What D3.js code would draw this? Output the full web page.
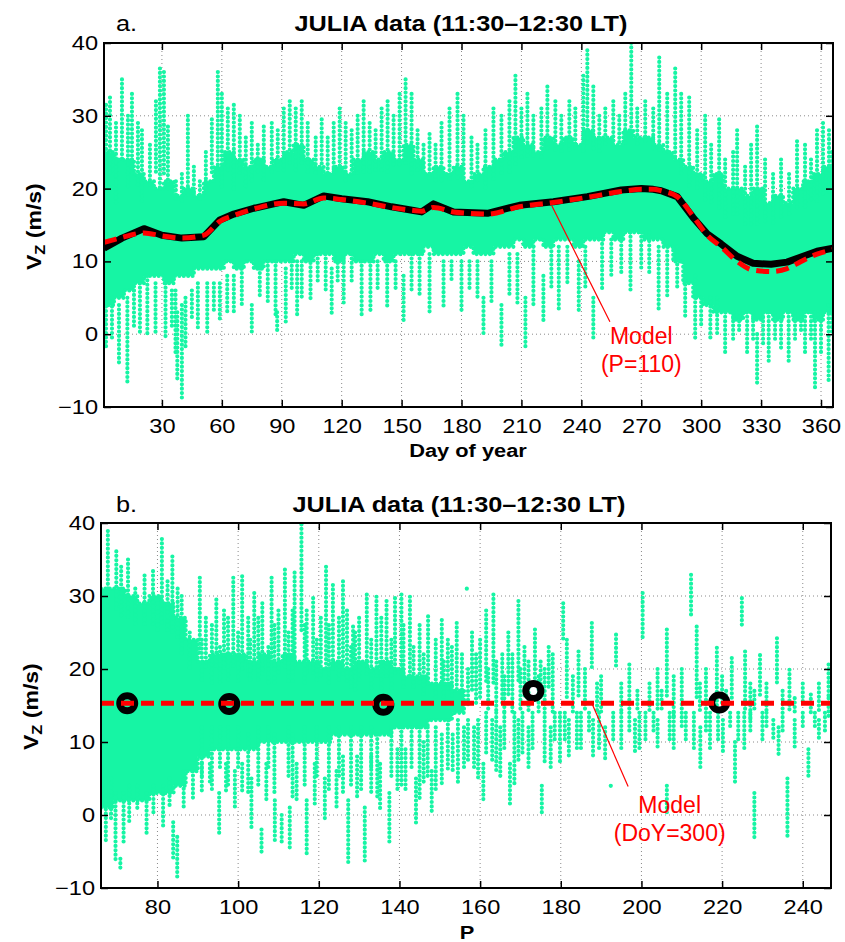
<!DOCTYPE html>
<html>
<head>
<meta charset="utf-8">
<script src="https://cdn.jsdelivr.net/npm/d3@7"></script>
<style>
  body { margin: 0; background: #fff; }
  text { font-family: "Liberation Sans", Arial, Helvetica, sans-serif; }
</style>
</head>
<body>
<svg id="chart" width="845" height="942"></svg>
<script>
///////////////////////////////////////////////////////////////////////////////
// data

var doyTicks = [30, 60, 90, 120, 150, 180, 210, 240, 270, 300, 330, 360];
var pTicks = [80, 100, 120, 140, 160, 180, 200, 220, 240];
var vzTicks = [-10, 0, 10, 20, 30, 40];

// panel a: dense part of the cloud, [first day of bin, low, high]
var doyCore = [
  [1, 4, 25], [6, 5, 24], [11, 6, 24], [16, 7, 22], [21, 8, 21], [26, 8, 20],
  [31, 7, 21], [36, 8, 19], [41, 8, 20], [46, 9, 19], [51, 9, 21], [56, 9, 23],
  [61, 10, 25], [66, 9, 24], [71, 10, 23], [76, 9, 24], [81, 10, 23],
  [86, 10, 24], [91, 10, 25], [96, 11, 26], [101, 10, 24], [106, 11, 23],
  [111, 11, 22], [116, 10, 23], [121, 11, 22], [126, 10, 24], [131, 10, 25],
  [136, 11, 24], [141, 10, 25], [146, 11, 24], [151, 11, 26], [156, 11, 24],
  [161, 12, 22], [166, 11, 23], [171, 11, 22], [176, 11, 23], [181, 12, 21],
  [186, 11, 22], [191, 11, 23], [196, 12, 24], [201, 12, 25], [206, 13, 27],
  [211, 12, 26], [216, 13, 25], [221, 12, 27], [226, 13, 26], [231, 13, 27],
  [236, 12, 26], [241, 13, 28], [246, 13, 27], [251, 14, 27], [256, 13, 26],
  [261, 14, 28], [266, 14, 27], [271, 13, 27], [276, 13, 26], [281, 12, 25],
  [286, 10, 24], [291, 7, 23], [296, 5, 22], [301, 4, 21], [306, 3, 22],
  [311, 3, 20], [316, 2, 20], [321, 3, 19], [326, 2, 20], [331, 3, 18],
  [336, 2, 19], [341, 3, 18], [346, 2, 20], [351, 3, 21], [356, 2, 22],
  [361, 3, 23]
];
var doyEnd = 366;

// panel a: sparse vertical streaks of samples, [day, low, high]
var doyStreaks = [
  [2, 20, 31.5], [4, 22, 32.5], [7, 18, 29], [10, 24, 35], [13, 20, 30],
  [15, 22, 33], [18, 20, 29], [20, 18, 28], [24, 20, 26], [27, 22, 32],
  [29, 20, 36.5], [31, 22, 36], [33, 20, 28.5], [37, 18, 21], [40, 18, 22],
  [43, 19, 30], [46, 19, 23], [49, 18, 21], [52, 20, 25], [55, 22, 29.5],
  [58, 22, 36], [60, 20, 33], [63, 22, 31], [66, 20, 31.5], [69, 22, 30],
  [72, 20, 27], [75, 21, 29], [78, 22, 26], [81, 21, 28.5], [85, 22, 29],
  [88, 22, 28], [91, 22, 31], [94, 23, 32], [97, 22, 31], [100, 23, 32],
  [103, 22, 29], [107, 22, 27], [110, 23, 29.5], [113, 22, 27], [116, 22, 29],
  [119, 22, 31], [122, 21, 29], [125, 22, 28], [128, 22, 30], [131, 22, 32],
  [134, 22, 29], [137, 22, 28], [140, 22, 31], [143, 22, 32], [146, 23, 30],
  [149, 23, 33], [152, 23, 35], [155, 22, 33], [158, 22, 28], [161, 22, 26],
  [164, 21, 27.5], [167, 21, 26], [170, 21, 29], [174, 21, 31], [178, 21, 33],
  [181, 21, 30], [185, 20, 27], [188, 21, 26], [192, 20, 28], [196, 21, 31],
  [200, 22, 30], [204, 22, 32], [207, 23, 35.5], [210, 24, 31], [213, 24, 33],
  [216, 24, 30], [220, 24, 31], [223, 25, 34], [227, 25, 32], [230, 25, 30],
  [234, 25, 32], [237, 25, 31], [241, 25, 35.5], [243, 26, 39], [246, 25, 34],
  [249, 25, 30], [252, 26, 31], [256, 26, 32], [259, 26, 30], [262, 26, 33],
  [265, 27, 40], [268, 26, 31], [272, 26, 32], [276, 25, 31], [279, 25, 38],
  [283, 25, 33], [287, 24, 36.5], [290, 22, 33], [294, 20, 32.5], [298, 20, 28],
  [302, 18, 30], [305, 18, 26], [309, 17, 29.5], [312, 16, 24], [316, 16, 25],
  [318, 16, 28], [322, 15, 23], [325, 15, 26], [328, 15, 28.5], [332, 15, 24],
  [336, 15, 22], [340, 16, 24], [344, 16, 22], [348, 17, 26.5], [352, 17, 26],
  [355, 18, 24], [358, 18, 28], [361, 19, 29], [364, 19, 28], [365.5, 20, 25],
  [2, -1.7, 5], [5, -1, 5], [8.5, -4, 4], [12.7, -6.5, 5], [16, 1, 6],
  [19, 0, 7], [22.7, -0.1, 8], [26.8, 0, 7], [31.8, -0.4, 7], [35, 1, 6],
  [36.8, -2.9, 6], [37.7, -6.3, 3], [40, -8.8, 4], [41.8, -2.2, 5], [45, 2, 6],
  [48, 0.5, 7], [52.7, -0.1, 7], [56, 3, 7], [59, 2, 7], [62.7, 2.9, 8],
  [66, 2.7, 8], [70, 4, 9], [75, -0.1, 4], [79, 5, 9], [83, 4, 10],
  [86.9, 2.4, 10], [87.7, 0.3, 3], [92, 1.5, 9], [95, 6, 10], [97.7, 2.6, 10],
  [100, 4.7, 10], [104.4, 4.7, 11], [108, 7, 11], [112, 6, 11], [115, 2.6, 9],
  [118, 7, 11], [121, 4, 11], [125, 7, 11], [130, 2.4, 10], [134.4, 3.3, 10],
  [138, 6, 10], [142.8, 3.75, 10], [147, 6, 10], [151, 1.7, 8], [155, 6, 11],
  [159, 5, 11], [164, 2.8, 11], [171, 3.6, 10], [175, 7, 10], [180, 3.1, 10],
  [184, 6, 10], [188, 5, 10], [191, -0.4, 5], [195, 4, 10], [200, -2, 4],
  [204, 5, 11], [208, 4, 11], [212, -2, 5], [216, 4, 12], [221, 1.5, 8],
  [225, 6, 12], [228.7, 3.5, 12], [233, 7, 12], [238.7, 3.3, 10], [242, 6, 12],
  [246, -0.6, 5], [250.4, 5.8, 13], [255, 8, 13], [260, 8, 14], [264.6, 6, 14],
  [270, 9, 14], [274, 8, 14], [278.7, 3.1, 12], [283, 5.1, 12], [288, 6, 12],
  [292, 2, 8], [297, -0.8, 8], [300, 1, 5], [304.6, -0.6, 5], [308, 0, 5],
  [312, -2.9, 3], [316, -1, 3], [319, 0, 3], [323, -2.9, 3], [326, -1, 3],
  [328, -6.8, 0], [331, -1.5, 3], [333.8, -4, 3], [337, -1, 3], [340, -2, 3],
  [343.8, -4, 3], [347, -1, 3], [350, 0, 3], [352, -2.9, 3], [355, -1, 3],
  [357, -7.5, 3], [360, -3, 3], [363.8, -6.8, 4], [365.5, 0.1, 4]
];

// panel a: running mean of the data (black) and model at P=110 (red)
var meanDays = [1, 10, 21, 30, 40, 51, 59, 66, 76, 91, 101, 111, 120, 133, 145,
  156, 160, 166, 176, 193, 209, 226, 243, 260, 270, 276, 280, 288, 296, 303,
  310, 318, 326, 335, 343, 350, 358, 366];
var meanVz = [11.8, 13.2, 14.5, 13.6, 13.2, 13.4, 15.7, 16.5, 17.3, 18.2, 17.7,
  19.0, 18.6, 18.2, 17.5, 17.0, 16.8, 17.9, 16.8, 16.6, 17.7, 18.2, 18.9, 19.8,
  20.0, 19.9, 19.7, 18.9, 16.0, 13.8, 12.4, 10.7, 9.75, 9.6, 9.9, 10.6, 11.4,
  11.8];
var modelVz = [12.6, 13.3, 13.9, 13.5, 13.2, 13.6, 15.5, 16.3, 17.2, 18.0, 17.9,
  18.7, 18.5, 18.0, 17.4, 17.0, 16.9, 17.4, 16.8, 16.5, 17.5, 18.1, 18.8, 19.6,
  19.9, 19.9, 19.7, 18.9, 16.2, 13.6, 12.0, 10.0, 8.8, 8.6, 9.0, 10.0, 11.0,
  11.6];

// panel b: dense part of the cloud, [first P of bin, low, high]
var pCore = [
  [66, 1, 31], [69, 2, 31], [72, 2, 30], [75, 2, 29], [78, 3, 30], [81, 3, 29],
  [84, 4, 27], [87, 6, 24], [90, 8, 21], [93, 9, 22], [96, 9, 22], [99, 9, 22],
  [102, 9, 21], [105, 10, 22], [108, 10, 21], [111, 10, 22], [114, 10, 21],
  [117, 10, 21], [120, 10, 20], [123, 11, 21], [126, 11, 20], [129, 11, 21],
  [132, 11, 20], [135, 11, 21], [138, 12, 20], [141, 12, 19], [144, 12, 19],
  [147, 13, 18], [150, 13, 18], [153, 14, 17]
];
var pEnd = 156;

// panel b: sparse streaks, [P, low, high]
var pStreaks = [
  [67.7, 28, 38.9], [69.8, 28, 36.1], [71, 27, 34], [72.7, 27, 35],
  [74.5, 26, 31], [76.8, 26, 32.8], [78.9, 26, 33.4], [80, 25, 29],
  [81.1, 26, 37.8], [82.5, 25, 32], [83.7, 25, 35.4], [85, 24, 31],
  [86, 22, 30], [88, 20, 25], [90.5, 22, 32.5], [92, 20, 27], [94.6, 20, 29.5],
  [96.5, 20, 28], [98.8, 20, 32.5], [101, 20, 32.7], [102.5, 19, 27],
  [104, 20, 30.4], [106, 19, 29], [108.3, 20, 32.5], [110, 19, 28],
  [111.6, 20, 33.6], [114, 20, 33.2], [115.7, 25, 39.8], [117, 19, 28],
  [118.6, 19, 29.7], [120.5, 19, 27], [121.8, 20, 34], [123.5, 20, 31.5],
  [126, 19, 32], [127, 18, 28], [128.5, 19, 25.8], [130, 18, 27],
  [131.9, 19, 30.2], [134.3, 19, 29.9], [136.8, 19, 29.3], [138.9, 19, 29.7],
  [140.5, 19, 30.2], [142.6, 19, 29.9], [145, 18, 26], [147.1, 18, 27.2],
  [150.5, 18, 26.7], [152, 17, 24], [154.2, 17, 26.3], [156.7, 30.5, 31],
  [158, 17, 25], [160, 16, 24], [161.5, 18, 28], [163.3, 18, 30.2],
  [165.5, 15, 22], [167, 16, 25], [169.5, 18, 29.3], [171, 16, 23],
  [173.6, 18, 25.4], [175, 16, 21], [177, 17, 23], [180.6, 24, 29],
  [181.5, 16, 24], [184.4, 16, 22.4], [186, 14, 20], [187.7, 20, 26.3],
  [190, 14, 19], [193.7, 20, 24.7], [197, 14, 20.6], [200.3, 24, 30.4],
  [202, 14, 18], [204, 14, 20], [206.3, 16, 25.4], [208, 13, 19], [210, 14, 20],
  [212.3, 27, 32.9], [213.7, 16, 25.8], [216, 14, 20], [218.7, 14, 22.9],
  [220, 15, 19], [222.4, 16, 21.5], [224.9, 26, 29.7], [225.7, 14, 22.4],
  [227, 13, 18], [229.4, 16, 21.9], [231, 14, 18], [233.6, 18, 24.2],
  [236.7, 14, 19.9], [240, 15, 18], [244, 14, 18], [246.4, 16, 20.6],
  [91, 18, 24], [93.5, 18, 26], [95.5, 18, 23], [97.5, 18, 27], [100, 18, 25],
  [103, 18, 24], [105, 18, 27], [107.5, 18, 23], [109, 18, 26],
  [112.5, 18, 25], [113.5, 18, 28], [116.5, 18, 26], [119.5, 18, 24],
  [122.5, 18, 26], [125, 18, 27], [128, 17, 23], [129, 17, 25], [133, 17, 24],
  [135.5, 17, 27], [138, 17, 24], [141, 17, 26], [143.5, 17, 23],
  [146, 16, 22], [149, 16, 24], [151, 16, 21], [153, 16, 23], [155.5, 15, 22],
  [157, 15, 20], [159, 15, 22], [162, 14, 20], [164, 14, 21], [166, 14, 19],
  [168, 14, 22], [170, 14, 20], [172, 14, 21], [174.5, 14, 19], [176, 14, 20],
  [178, 14, 22], [183, 14, 19], [189, 14, 18], [195, 14, 18], [199, 14, 17],
  [205, 14, 17], [214.5, 14, 18], [221, 14, 17], [228, 14, 17], [235, 14, 17],
  [238, 14, 16], [242, 14, 16.5],
  [67.2, -3.7, 5], [68.5, -1, 5], [69.6, -6.2, 3], [70.8, -7.3, -6],
  [71.6, -3.9, 3], [73, -1, 4], [75, 0.5, 4], [77.3, -2.7, 3], [79, 0, 4],
  [81.4, -1.6, 4], [83, 1, 5], [83.9, -6.4, -1], [84.9, -8.7, -3], [86.5, 1, 6],
  [88.8, 2.3, 6], [91, 3, 7], [93, 4, 7], [95.3, -2.5, 3], [97, 3, 7],
  [99.2, 0.7, 6], [101, 3, 7], [103.3, -1.8, 5], [105.8, -5.3, -2], [107, 2, 7],
  [109.1, -3.9, 2], [110.8, -3.9, 0], [112.8, -5, 1], [114.5, 2, 7],
  [117, -5.3, 2], [119, 1, 7], [121.5, -0.5, 5], [124.4, 1.1, 6], [126, 3, 8],
  [127.3, -6.6, 2], [129.5, 2, 8], [131.4, -6.4, 1], [133, 3, 8],
  [135.2, 0.5, 7], [137.5, -3.9, 3], [139.5, 3, 9], [141.5, 3, 9],
  [144.1, -1.6, 5], [146, 4, 10], [148, 0, 6], [150.5, 4, 11], [153.2, 5.6, 11],
  [156, 6, 12], [158.5, 6, 12], [160.8, 1.8, 7], [163, 7, 13], [165, 5, 12],
  [167.4, 1.4, 7], [169.5, 7, 13], [172, 6, 12], [175.3, 0, 4], [177.5, 6, 12],
  [179.8, 7.3, 14], [182, 8, 13], [185, 9, 14], [188, 8, 13], [191, 7.3, 12],
  [192.4, 3.6, 4], [195, 9, 14], [198.4, 8.2, 13], [201, 10, 14], [204, 9, 13],
  [206.3, 0, 4], [208, 9, 14], [211, 10, 14], [214.6, 6.2, 12], [217, 9, 14],
  [220.2, 8.2, 13], [223.2, 4.3, 10], [225.5, 9, 14], [228, -3.2, 3],
  [230, 10, 14], [232.7, 10.3, 13], [234, 8, 12], [236.2, -3, 5], [238, 9, 13],
  [241.4, 5, 9], [244, 10, 13], [246.4, 13.3, 16],
  [91, 5, 12], [93.5, 3, 12], [95.5, 6, 12], [97.5, 4, 12], [100, 6, 12],
  [102.5, 3, 11], [105, 4, 12], [107.5, 6, 12], [109, 3, 11], [112.5, 5, 12],
  [113.5, 2, 11], [116.5, 4, 12], [119.5, 5, 12], [122.5, 3, 12], [125, 5, 12],
  [128, 4, 12], [130.5, 3, 12], [133, 6, 12], [134.5, 2, 11], [138, 5, 12],
  [140.5, 4, 12], [143, 6, 12], [145, 2, 12], [147, 5, 12], [149, 3, 12],
  [152, 6, 13], [154.5, 4, 13], [157, 7, 13], [159.5, 5, 13], [161.5, 8, 14],
  [164, 6, 14], [166, 9, 14], [168.5, 4, 14], [170.5, 8, 14], [173, 9, 14],
  [176, 7, 14], [178.5, 10, 14], [181, 10, 14], [184, 9, 14], [187, 11, 14],
  [189.5, 9, 14], [193, 10, 14], [197, 11, 14], [199.5, 9, 14], [203, 11, 14],
  [207, 10, 14], [210, 12, 14], [213, 9, 14], [216, 11, 14], [219, 10, 14],
  [222, 12, 14], [224, 10, 14], [227, 11, 14], [231, 12, 14], [235, 11, 14],
  [240, 12, 14], [243, 12, 14], [245.5, 11, 14]
];

// panel b: binned data means (circles) and model at DoY=300 (red)
var binP = [72.5, 97.8, 136, 173.2, 219.3];
var binVz = [15.3, 15.2, 15.1, 17.0, 15.4];
var pModelP = [66, 247];
var pModelVz = [15.3, 15.3];

// annotation arrows: [tip x, tip y, tail x, tail y], labels at [x, y]
var noteA = [225.3, 17.6, 254.3, 1.7];
var noteALabel = [270, -1.3];
var noteB = [187.7, 15.3, 196.7, 3.9];
var noteBLabel = [207, 0.3];

///////////////////////////////////////////////////////////////////////////////

var GREEN = "#16f5a4";
var svg = d3.select("#chart");

var xA = d3.scaleLinear().domain([1, 366]).range([104, 833]);
var yA = d3.scaleLinear().domain([-10, 40]).range([407, 43]);
var xB = d3.scaleLinear().domain([66, 247]).range([101, 831]);
var yB = d3.scaleLinear().domain([-10, 40]).range([888, 523]);

var addText = function (g, px, py, str, o) {
  o = o || {};
  var t = g.append("text")
    .attr("transform", "translate(" + px + "," + py + ")" + (o.sx ? " scale(" + o.sx + ",1)" : ""))
    .attr("text-anchor", o.anchor || "start")
    .attr("font-size", o.size || 20)
    .attr("font-weight", o.bold ? "bold" : null)
    .attr("fill", o.fill || "#000")
    .text(str);
  return t;
};

var frame = function (name, x, y, xt) {
  var g = svg.append("g");
  var x0 = x.range()[0], x1 = x.range()[1];
  var yb = y.range()[0], yt = y.range()[1];

  g.append("clipPath").attr("id", "clip-" + name)
    .append("rect").attr("x", x0).attr("y", yt)
    .attr("width", x1 - x0).attr("height", yb - yt);

  // dotted grid
  var grid = g.append("g").attr("stroke", "#8a8a8a").attr("stroke-width", 1)
    .attr("stroke-dasharray", "1,3");
  grid.selectAll(".gx").data(xt).enter().append("line")
    .attr("x1", function (d) { return x(d); }).attr("x2", function (d) { return x(d); })
    .attr("y1", yt).attr("y2", yb);
  grid.selectAll(".gy").data(vzTicks.slice(1, -1)).enter().append("line")
    .attr("y1", function (d) { return y(d); }).attr("y2", function (d) { return y(d); })
    .attr("x1", x0).attr("x2", x1);

  var plot = g.append("g").attr("clip-path", "url(#clip-" + name + ")");
  return { g: g, plot: plot };
};

// the cloud: a filled dense body with a beaded rim, plus beaded streaks
var drawCloud = function (plot, x, y, core, end, streaks) {
  var last = core[core.length - 1];
  var pts = core.concat([[end, last[1], last[2]]]);
  var area = d3.area()
    .x(function (d) { return x(d[0]); })
    .y0(function (d) { return y(d[1]); })
    .y1(function (d) { return y(d[2]); })
    .curve(d3.curveStepAfter);
  plot.append("path").datum(pts).attr("d", area).attr("fill", GREEN);
  plot.append("path").datum(pts).attr("d", area)
    .attr("fill", "none").attr("stroke", GREEN)
    .attr("stroke-width", 4.2).attr("stroke-linecap", "round")
    .attr("stroke-dasharray", "0 4.4");

  plot.append("g").selectAll("line").data(streaks).enter().append("line")
    .attr("x1", function (d) { return x(d[0]); })
    .attr("x2", function (d) { return x(d[0]); })
    .attr("y1", function (d) { return y(d[2]); })
    .attr("y2", function (d) { return y(d[1]); })
    .attr("stroke", GREEN)
    .attr("stroke-width", 4.2)
    .attr("stroke-linecap", "round")
    .attr("stroke-dasharray", "0 4.4");
};

var drawAxes = function (g, x, y, xt) {
  var x0 = x.range()[0], x1 = x.range()[1];
  var yb = y.range()[0], yt = y.range()[1];
  var fix = function (sel, labels) {
    sel.attr("font-size", 20).attr("font-family", null);
    sel.select(".domain").remove();
    sel.selectAll("line").attr("stroke-width", 1.5);
    if (labels) sel.selectAll("text").attr("transform", "scale(1.18,1)");
  };

  g.append("g").attr("transform", "translate(0," + yb + ")")
    .call(d3.axisBottom(x).tickValues(xt).tickSize(-7).tickSizeOuter(0).tickPadding(12))
    .call(fix, true);
  g.append("g").attr("transform", "translate(0," + yt + ")")
    .call(d3.axisTop(x).tickValues(xt).tickSize(-7).tickSizeOuter(0).tickFormat(""))
    .call(fix, false);
  g.append("g").attr("transform", "translate(" + x0 + ",0)")
    .call(d3.axisLeft(y).tickValues(vzTicks).tickSize(-7).tickSizeOuter(0).tickPadding(5))
    .call(fix, true);
  g.append("g").attr("transform", "translate(" + x1 + ",0)")
    .call(d3.axisRight(y).tickValues(vzTicks).tickSize(-7).tickSizeOuter(0).tickFormat(""))
    .call(fix, false);

  g.append("rect").attr("x", x0).attr("y", yt)
    .attr("width", x1 - x0).attr("height", yb - yt)
    .attr("fill", "none").attr("stroke", "#000").attr("stroke-width", 2);
};

var yLabel = function (g, px, py) {
  var t = g.append("text")
    .attr("transform", "translate(" + px + "," + py + ") rotate(-90) scale(1.18,1)")
    .attr("font-size", 19.5).attr("font-weight", "bold");
  t.append("tspan").text("V");
  t.append("tspan").attr("font-size", 14).attr("dy", 4).text("Z");
  t.append("tspan").attr("dy", -4).text(" (m/s)");
};

var note = function (g, x, y, arrow, label, lines) {
  g.append("line")
    .attr("x1", x(arrow[0])).attr("y1", y(arrow[1]))
    .attr("x2", x(arrow[2])).attr("y2", y(arrow[3]))
    .attr("stroke", "#ff0000").attr("stroke-width", 1.2);
  lines.forEach(function (s, i) {
    addText(g, x(label[0]), y(label[1]) + i * 28, s,
            { anchor: "middle", size: 23, fill: "#ff0000" });
  });
};

///////////////////////////////////////////////////////////////////////////////
// panel a

var fa = frame("a", xA, yA, doyTicks);
drawCloud(fa.plot, xA, yA, doyCore, doyEnd, doyStreaks);

var lineA = function (vals, curve) {
  return d3.line()
    .x(function (d, i) { return xA(meanDays[i]); })
    .y(function (d) { return yA(d); })
    .curve(curve)(vals);
};
fa.plot.append("path").attr("d", lineA(meanVz, d3.curveLinear))
  .attr("fill", "none").attr("stroke", "#000").attr("stroke-width", 7)
  .attr("stroke-linejoin", "round");
fa.plot.append("path").attr("d", lineA(modelVz, d3.curveMonotoneX))
  .attr("fill", "none").attr("stroke", "#ff0000").attr("stroke-width", 5)
  .attr("stroke-dasharray", "13,7");

note(fa.g, xA, yA, noteA, noteALabel, ["Model", "(P=110)"]);
drawAxes(fa.g, xA, yA, doyTicks);

addText(fa.g, 116, 31, "a.", { size: 22, sx: 1.15 });
addText(fa.g, 461, 31, "JULIA data (11:30\u201312:30 LT)", { size: 22, bold: true, anchor: "middle", sx: 1.15 });
addText(fa.g, 468, 457, "Day of year", { size: 18.5, bold: true, anchor: "middle", sx: 1.18 });
yLabel(fa.g, 41, 270);

///////////////////////////////////////////////////////////////////////////////
// panel b

var fb = frame("b", xB, yB, pTicks);
drawCloud(fb.plot, xB, yB, pCore, pEnd, pStreaks);

fb.plot.append("g").selectAll("circle").data(binP).enter().append("circle")
  .attr("cx", function (d) { return xB(d); })
  .attr("cy", function (d, i) { return yB(binVz[i]); })
  .attr("r", 7.5)
  .attr("fill", "none").attr("stroke", "#000").attr("stroke-width", 7);

fb.plot.append("path")
  .attr("d", d3.line()
    .x(function (d, i) { return xB(pModelP[i]); })
    .y(function (d) { return yB(d); })(pModelVz))
  .attr("fill", "none").attr("stroke", "#ff0000").attr("stroke-width", 5)
  .attr("stroke-dasharray", "13,7");

note(fb.g, xB, yB, noteB, noteBLabel, ["Model", "(DoY=300)"]);
drawAxes(fb.g, xB, yB, pTicks);

addText(fb.g, 116, 512, "b.", { size: 22, sx: 1.15 });
addText(fb.g, 459, 512, "JULIA data (11:30\u201312:30 LT)", { size: 22, bold: true, anchor: "middle", sx: 1.15 });
addText(fb.g, 467, 939, "P", { size: 18.5, bold: true, anchor: "middle", sx: 1.18 });
yLabel(fb.g, 38, 750);
</script>
</body>
</html>
